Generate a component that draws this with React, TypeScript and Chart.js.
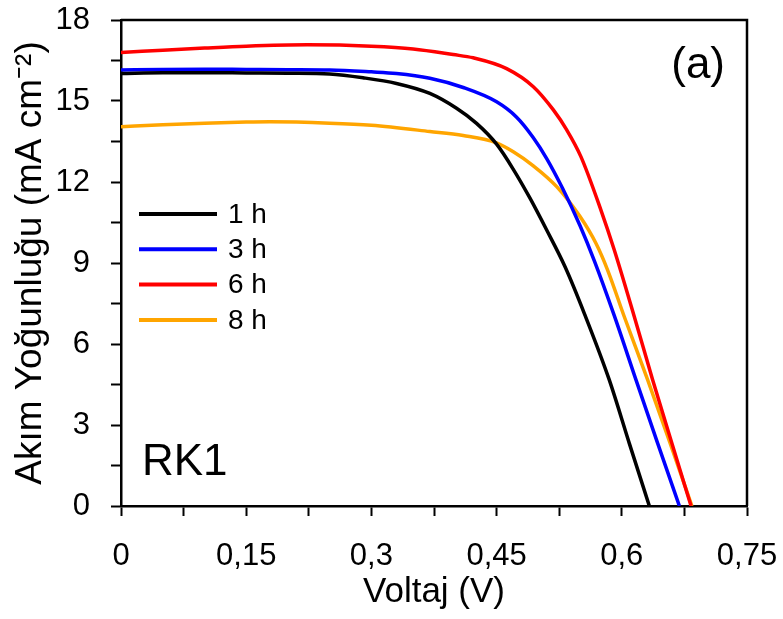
import React, { useEffect, useRef } from 'react';
import { Chart, registerables } from 'chart.js';

Chart.register(...registerables);

const FONT = "'Liberation Sans', Arial, Helvetica, sans-serif";

const seriesLabels = ['1 h', '3 h', '6 h', '8 h'];
const seriesColors = ['#000000', '#0000FF', '#FF0000', '#FFA500'];

const voltage1h = [0, 0.05, 0.1, 0.15, 0.2, 0.25, 0.29, 0.33, 0.37, 0.402, 0.426, 0.45, 0.47, 0.49, 0.51, 0.532, 0.5555, 0.585, 0.609, 0.633];
const current1h = [16.02, 16.05, 16.05, 16.04, 16.03, 16.0, 15.86, 15.65, 15.28, 14.73, 14.17, 13.4, 12.47, 11.4, 10.22, 8.86, 7.1, 4.67, 2.32, 0];

const voltage3h = [0, 0.05, 0.1, 0.15, 0.2, 0.25, 0.3, 0.33, 0.37, 0.41, 0.45, 0.474, 0.494, 0.51, 0.529, 0.55, 0.567, 0.591, 0.617, 0.643, 0.669];
const current3h = [16.15, 16.17, 16.18, 16.17, 16.16, 16.15, 16.08, 16.02, 15.84, 15.5, 14.97, 14.4, 13.64, 12.87, 11.77, 10.38, 9.09, 7.05, 4.67, 2.32, 0];

const voltage6h = [0, 0.05, 0.1, 0.15, 0.223, 0.3, 0.35, 0.398, 0.422, 0.462, 0.494, 0.518, 0.534, 0.551, 0.575, 0.591, 0.615, 0.637, 0.66, 0.683];
const current6h = [16.8, 16.88, 16.96, 17.03, 17.08, 17.03, 16.93, 16.72, 16.6, 16.2, 15.53, 14.67, 13.93, 12.94, 10.96, 9.48, 7.01, 4.67, 2.32, 0];

const voltage8h = [0, 0.05, 0.1, 0.15, 0.178, 0.25, 0.3, 0.37, 0.41, 0.45, 0.47, 0.494, 0.522, 0.55, 0.569, 0.583, 0.603, 0.631, 0.658, 0.684];
const current8h = [14.05, 14.12, 14.18, 14.22, 14.23, 14.18, 14.1, 13.87, 13.72, 13.45, 13.12, 12.6, 11.83, 10.72, 9.73, 8.74, 7.01, 4.67, 2.32, 0];

const voltages = [voltage1h, voltage3h, voltage6h, voltage8h];
const currents = [current1h, current3h, current6h, current8h];

const xMajorStep = 0.15;
const yMajorStep = 3;
const xMin = 0, xMax = 0.75;
const yMin = 0, yMax = 18;

const xTitle = 'Voltaj (V)';
const yTitle = 'Akım Yoğunluğu (mA cm⁻²)';
const sampleLabel = 'RK1';
const panelLabel = '(a)';

const isMultiple = (v: number, step: number) => Math.abs(v / step - Math.round(v / step)) < 1e-6;

const zeroPadding = (scale: any) => {
  scale.paddingTop = 0;
  scale.paddingBottom = 0;
  scale.paddingLeft = 0;
  scale.paddingRight = 0;
};

const decorPlugin = {
  id: 'decor',
  afterDraw(chart: any) {
    const { ctx, chartArea } = chart;
    const { left, right, top, bottom } = chartArea;
    ctx.save();
    ctx.strokeStyle = '#000';
    ctx.lineWidth = 2.5;
    ctx.beginPath();
    ctx.moveTo(left, top);
    ctx.lineTo(right, top);
    ctx.lineTo(right, bottom);
    ctx.stroke();

    const lx = left + 18;
    const ly0 = top + 194;
    const dy = 35.3;
    chart.data.datasets.forEach((ds: any, i: number) => {
      const y = ly0 + i * dy;
      ctx.strokeStyle = ds.borderColor;
      ctx.lineWidth = 4;
      ctx.beginPath();
      ctx.moveTo(lx, y);
      ctx.lineTo(lx + 78, y);
      ctx.stroke();
      ctx.fillStyle = '#000';
      ctx.font = `28px ${FONT}`;
      ctx.textBaseline = 'middle';
      ctx.textAlign = 'left';
      ctx.fillText(ds.label, lx + 89, y + 1);
    });

    ctx.fillStyle = '#000';
    ctx.font = `44px ${FONT}`;
    ctx.textBaseline = 'alphabetic';
    ctx.textAlign = 'left';
    ctx.fillText(sampleLabel, left + 21, bottom - 31);

    ctx.textAlign = 'right';
    ctx.fillText(panelLabel, right - 22, top + 58);
    ctx.restore();
  },
};

export default function App() {
  const canvasRef = useRef<HTMLCanvasElement | null>(null);

  useEffect(() => {
    if (!canvasRef.current) return;
    const datasets = seriesLabels.map((label, i) => ({
      label,
      data: voltages[i].map((v, k) => ({ x: v, y: currents[i][k] })),
      borderColor: seriesColors[i],
      backgroundColor: seriesColors[i],
      borderWidth: 3.5,
      pointRadius: 0,
      tension: 0.4,
      cubicInterpolationMode: 'monotone' as const,
      fill: false,
    }));

    const chart = new Chart(canvasRef.current, {
      type: 'line',
      data: { datasets },
      options: {
        responsive: false,
        animation: false,
        layout: { padding: { top: 20, right: 36, left: 0, bottom: 0 } },
        plugins: {
          legend: { display: false },
          tooltip: { enabled: false },
        },
        scales: {
          x: {
            type: 'linear',
            min: xMin,
            max: xMax,
            afterFit: (scale: any) => { scale.height = 113; zeroPadding(scale); },
            ticks: {
              stepSize: xMajorStep / 2,
              autoSkip: false,
              maxRotation: 0,
              color: '#000',
              padding: 22,
              font: { family: FONT, size: 31 },
              callback: (value: any) => {
                const v = Number(value);
                if (!isMultiple(v, xMajorStep)) return '';
                return String(Math.round(v * 100) / 100).replace('.', ',');
              },
            },
            grid: {
              drawOnChartArea: false,
              drawTicks: true,
              tickLength: 10,
              tickWidth: 2,
              tickColor: '#000',
            },
            border: { display: true, color: '#000', width: 2.5 },
            title: {
              display: true,
              text: xTitle,
              color: '#000',
              font: { family: FONT, size: 35 },
              padding: { top: 0, bottom: 6 },
            },
          },
          y: {
            type: 'linear',
            min: yMin,
            max: yMax,
            afterFit: (scale: any) => { scale.width = 121; zeroPadding(scale); },
            ticks: {
              stepSize: yMajorStep / 2,
              autoSkip: false,
              color: '#000',
              padding: 21,
              font: { family: FONT, size: 31 },
              callback: (value: any) => {
                const v = Number(value);
                if (!isMultiple(v, yMajorStep)) return '';
                return String(v);
              },
            },
            grid: {
              drawOnChartArea: false,
              drawTicks: true,
              tickLength: 10,
              tickWidth: 2,
              tickColor: '#000',
            },
            border: { display: true, color: '#000', width: 2.5 },
            title: {
              display: true,
              text: yTitle,
              color: '#000',
              font: { family: FONT, size: 37 },
              padding: { top: 9, bottom: 0 },
            },
          },
        },
      },
      plugins: [decorPlugin],
    });
    return () => chart.destroy();
  }, []);

  return (
    <div style={{ position: 'fixed', left: 0, top: 0, width: 783, height: 619, background: '#fff' }}>
      <canvas ref={canvasRef} width={783} height={619} />
    </div>
  );
}
